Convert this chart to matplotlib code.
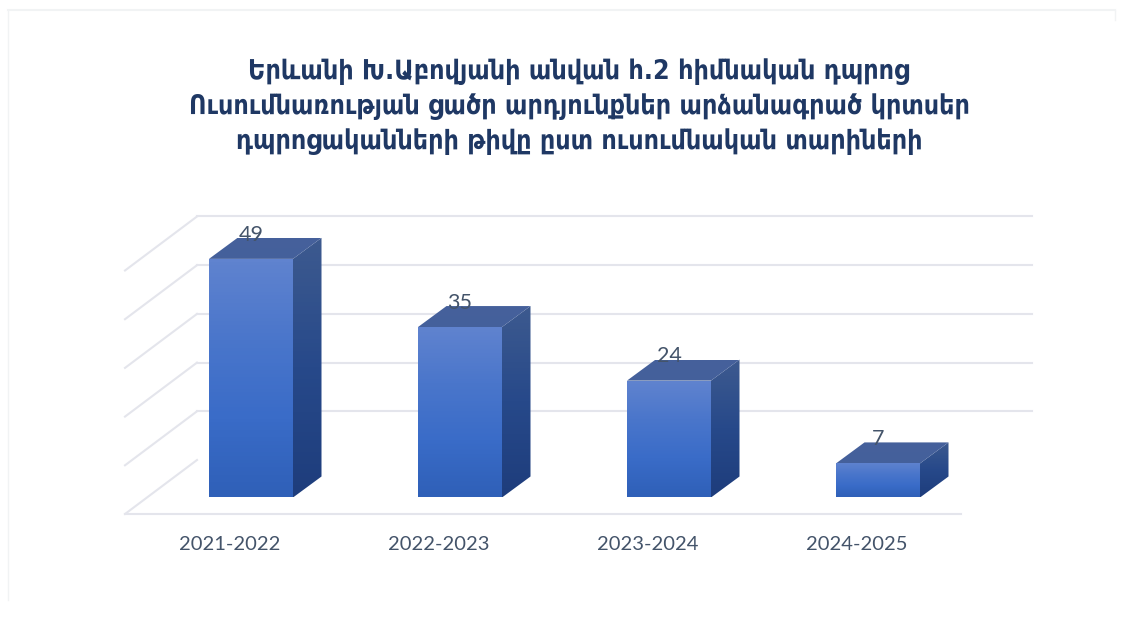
import matplotlib
matplotlib.use('Agg')
import matplotlib.pyplot as plt
from matplotlib.colors import LinearSegmentedColormap
from matplotlib.patches import Polygon
import numpy as np

title_lines = [
    'Երևանի Խ.Աբովյանի անվան հ.2 հիմնական դպրոց',
    'Ուսումնառության ցածր արդյունքներ արձանագրած կրտսեր',
    'դպրոցականների թիվը ըստ ուսումնական տարիների',
]
years = ['2021-2022', '2022-2023', '2023-2024', '2024-2025']
values = [49, 35, 24, 7]
grid_values = [0, 10, 20, 30, 40, 50]

# chart scale: one category step and one value unit, in pixels
step_px = 209
unit_px = 4.87
bar_half = 42 / step_px
depth_x = 28.5 / step_px
depth_y = 21 / unit_px

# wall and floor placement relative to the bars
back_lift = 37.5 / unit_px
front_drop = -16.5 / unit_px
wall_left_back = -54 / step_px
wall_left_front = -126 / step_px
wall_right_back = 781 / step_px
floor_right = 710 / step_px

fig = plt.figure(figsize=(11.3, 6.3), dpi=100, facecolor='white')
ax = fig.add_axes([0, 0, 1, 1])
ax.axis('off')
xlim = (-251 / step_px, (1130 - 251) / step_px)
ylim = (-(630 - 497.5) / unit_px, 497.5 / unit_px)

front_cmap = LinearSegmentedColormap.from_list('front', ['#2f60b8', '#3a6cc8', '#4a76cb', '#6083cf'])
side_cmap = LinearSegmentedColormap.from_list('side', ['#1e3d7c', '#27498a', '#3d5a8f'])
top_cmap = LinearSegmentedColormap.from_list('top', ['#44609c', '#46619b'])
ramp = np.linspace(1, 0, 64).reshape(-1, 1)


def fill_face(points, cmap):
    pts = np.array(points)
    face = Polygon(pts, closed=True, transform=ax.transData, facecolor='none', edgecolor='none')
    ax.add_patch(face)
    im = ax.imshow(ramp, cmap=cmap, vmin=0, vmax=1, aspect='auto', zorder=3,
                   extent=(pts[:, 0].min(), pts[:, 0].max(), pts[:, 1].min(), pts[:, 1].max()))
    im.set_clip_path(face)


# grid on the back wall and on the left wall
grid_color = '#e4e5ec'
for v in grid_values:
    y_back = v + back_lift
    y_front = v + front_drop
    if v > 0:
        ax.plot([wall_left_back, wall_right_back], [y_back, y_back], color=grid_color, lw=1.5, zorder=1)
    ax.plot([wall_left_front, wall_left_back], [y_front, y_back], color=grid_color, lw=1.5, zorder=1)
ax.plot([wall_left_front, floor_right], [front_drop, front_drop], color=grid_color, lw=1.5, zorder=1)

for i, (year, v) in enumerate(zip(years, values)):
    l, r = i - bar_half, i + bar_half
    fill_face([(l, 0), (r, 0), (r, v), (l, v)], front_cmap)
    fill_face([(r, 0), (r + depth_x, depth_y), (r + depth_x, v + depth_y), (r, v)], side_cmap)
    fill_face([(l, v), (r, v), (r + depth_x, v + depth_y), (l + depth_x, v + depth_y)], top_cmap)
    ax.text(i, v + 5, str(v), ha='center', va='center', fontsize=15.5, family='Lato',
            color='#44546a', zorder=5)
    ax.text(i - 0.10, -9.75, year, ha='center', va='center', fontsize=14.5, family='Lato',
            color='#44546a', zorder=5)

ax.set_xlim(xlim)
ax.set_ylim(ylim)

# faint frame around the card
frame = '#f1f3f4'
fig.add_artist(plt.Line2D([8 / 1130, 1115 / 1130], [620 / 630, 620 / 630], color=frame, lw=1.5))
fig.add_artist(plt.Line2D([8 / 1130, 8 / 1130], [30 / 630, 620 / 630], color=frame, lw=1.0))
fig.add_artist(plt.Line2D([1115 / 1130, 1115 / 1130], [610 / 630, 620 / 630], color=frame, lw=1.0))

fig.text(579 / 1130, 1 - 107 / 630, '\n'.join(title_lines), ha='center', va='center',
         fontsize=19.2, fontweight='bold', family='DejaVu Sans', stretch='condensed',
         color='#1f3864', linespacing=1.4)

plt.savefig('out.png', dpi=100, facecolor='white')
plt.close()
